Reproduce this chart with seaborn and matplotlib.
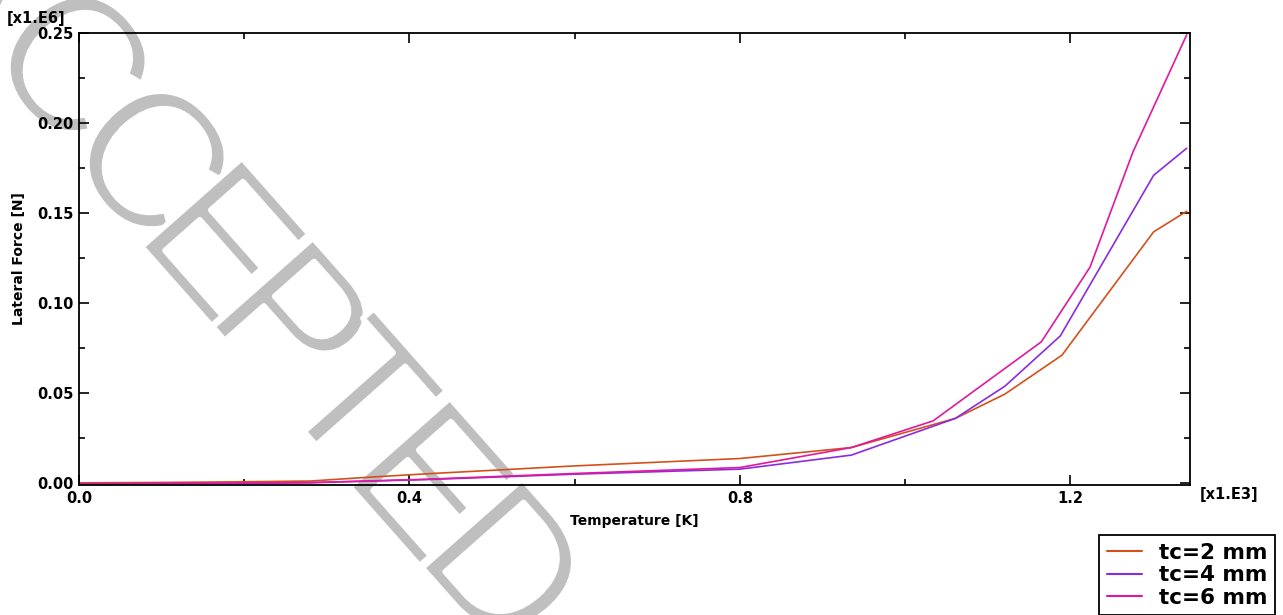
import matplotlib
matplotlib.use("Agg")
import matplotlib.pyplot as plt
import matplotlib.patheffects as pe
from matplotlib.ticker import MultipleLocator, FormatStrFormatter
import pandas as pd
import seaborn as sns

# Lateral force (x1.E6 N) against temperature (x1.E3 K) for three thicknesses
temp_tc2 = [0.00, 0.10, 0.20, 0.28, 0.35, 0.42, 0.60, 0.80, 0.935, 1.061, 1.121, 1.190, 1.301, 1.341]
force_tc2 = [0.0002, 0.0004, 0.0008, 0.0012, 0.0033, 0.0052, 0.0096, 0.0137, 0.0198, 0.0360, 0.0495, 0.0711, 0.1396, 0.1510]

temp_tc4 = [0.00, 0.20, 0.28, 0.42, 0.60, 0.80, 0.935, 1.061, 1.121, 1.188, 1.301, 1.341]
force_tc4 = [-0.0003, 0.0000, 0.0003, 0.0020, 0.0050, 0.0078, 0.0156, 0.0360, 0.0539, 0.0818, 0.1710, 0.1860]

temp_tc6 = [0.00, 0.20, 0.28, 0.42, 0.60, 0.80, 0.935, 1.034, 1.165, 1.224, 1.276, 1.341]
force_tc6 = [-0.0005, 0.0000, 0.0003, 0.0022, 0.0054, 0.0087, 0.0198, 0.0346, 0.0785, 0.1200, 0.1840, 0.2490]

series_labels = ["tc=2 mm", "tc=4 mm", "tc=6 mm"]
series_colors = ["#D4501A", "#8A2BE2", "#E0189E"]

stamp_letters = ["A", "C", "C", "E", "P", "T", "E", "D"]

frames = []
for lab, xs, ys in zip(series_labels, [temp_tc2, temp_tc4, temp_tc6],
                       [force_tc2, force_tc4, force_tc6]):
    frames.append(pd.DataFrame({"Temperature": xs, "Force": ys, "Series": lab}))
df = pd.concat(frames, ignore_index=True)

sns.set_style("white")
plt.rcParams["font.family"] = ["DejaVu Sans"]
plt.rcParams["font.weight"] = "bold"
for key in ["text.color", "axes.labelcolor", "xtick.color", "ytick.color"]:
    plt.rcParams[key] = "black"

W, H = 1283, 615
fig = plt.figure(figsize=(W / 100, H / 100), dpi=100, facecolor="white")
ax = fig.add_axes([79 / W, 1 - 485 / H, 1111 / W, 452 / H])
ax.set_facecolor("none")

# diagonal background stamp: letter centres along the slant, in pixels
stamp_cx = [-25, 62, 141, 212, 283, 348, 420, 496]
stamp_cy = [-30, 72, 168, 250, 330, 405, 490, 575]
for ch, cx, cy in zip(stamp_letters, stamp_cx, stamp_cy):
    fig.text(cx / W, 1 - cy / H, ch, rotation=-48.5, rotation_mode="anchor",
             ha="center", va="center", fontsize=140, color="#bfbfbf",
             family="Liberation Sans", fontweight="normal", zorder=-5,
             path_effects=[pe.Stroke(linewidth=4, foreground="white")])

sns.lineplot(data=df, x="Temperature", y="Force", hue="Series",
             palette=dict(zip(series_labels, series_colors)),
             estimator=None, sort=False, linewidth=1.2, legend=False, ax=ax)

ax.set_xlim(0, 1.345)
ax.set_ylim(-0.001, 0.25)

ax.xaxis.set_major_locator(MultipleLocator(0.4))
ax.xaxis.set_minor_locator(MultipleLocator(0.2))
ax.yaxis.set_major_locator(MultipleLocator(0.05))
ax.yaxis.set_minor_locator(MultipleLocator(0.025))
ax.xaxis.set_major_formatter(FormatStrFormatter("%.1f"))
ax.yaxis.set_major_formatter(FormatStrFormatter("%.2f"))

ax.tick_params(which="both", direction="in", top=True, right=True,
               bottom=True, left=True, color="black", width=1.2)
ax.tick_params(which="major", length=7, labelsize=10.5, pad=4)
ax.tick_params(which="minor", length=4)
for lbl in ax.get_xticklabels() + ax.get_yticklabels():
    lbl.set_fontweight("bold")

for sp in ax.spines.values():
    sp.set_visible(True)
    sp.set_color("black")
    sp.set_linewidth(1.3)

ax.set_xlabel("Temperature [K]", fontsize=10, fontweight="bold")
ax.set_ylabel("Lateral Force [N]", fontsize=10, fontweight="bold")
ax.xaxis.set_label_coords(0.5, -0.064)
ax.yaxis.set_label_coords(-0.048, 0.5)

fig.text(7 / W, 1 - 18 / H, "[x1.E6]", fontsize=10.5, fontweight="bold",
         ha="left", va="center")
fig.text(1200 / W, 1 - 494 / H, "[x1.E3]", fontsize=10.5, fontweight="bold",
         ha="left", va="center")

handles = [plt.Line2D([], [], color=c, lw=1.5) for c in series_colors]
leg = fig.legend(handles, series_labels, loc="upper left",
                 bbox_to_anchor=(1099 / W, 1 - 535 / H),
                 prop={"size": 15.5, "weight": "bold"}, frameon=True, fancybox=False,
                 edgecolor="black", handlelength=1.65, handletextpad=0.8,
                 borderpad=0.35, labelspacing=0.12, borderaxespad=0)
leg.get_frame().set_linewidth(1.3)
leg.get_frame().set_alpha(1)

fig.savefig("out.png", dpi=100, facecolor="white")
